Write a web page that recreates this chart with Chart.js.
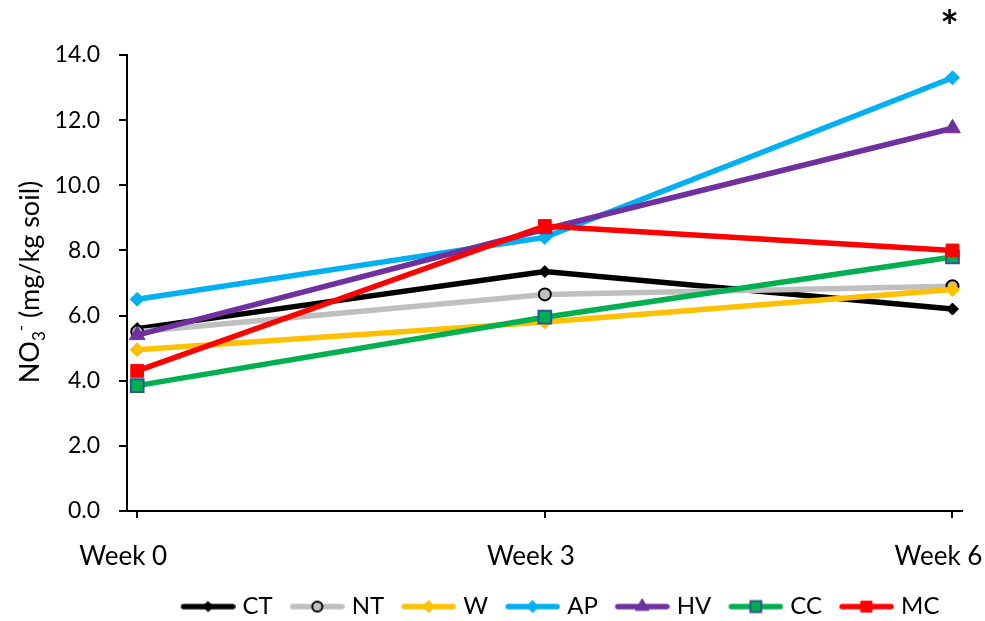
<!DOCTYPE html>
<html>
<head>
<meta charset="utf-8">
<script src="https://cdn.jsdelivr.net/npm/chart.js@4.4.1/dist/chart.umd.min.js"></script>
<style>
  html, body { margin: 0; padding: 0; background: #fff; }
  #wrap { width: 985px; height: 621px; position: relative; }
</style>
</head>
<body>
<div id="wrap"><canvas id="c"></canvas></div>
<script>
(function () {
  "use strict";

  // data
  var weeks = [0, 3, 6];
  var weekLabels = ["Week 0", "Week 3", "Week 6"];
  var seriesNames = ["CT", "NT", "W", "AP", "HV", "CC", "MC"];
  var ct = [5.6, 7.35, 6.2];
  var nt = [5.5, 6.65, 6.9];
  var w = [4.95, 5.8, 6.8];
  var ap = [6.5, 8.4, 13.3];
  var hv = [5.4, 8.65, 11.75];
  var cc = [3.85, 5.95, 7.8];
  var mc = [4.3, 8.75, 8.0];
  var yMin = 0, yMax = 14, yStep = 2;

  var values = [ct, nt, w, ap, hv, cc, mc];
  var looks = [
    { color: "#000000", marker: "rectRot", r: 6, fill: "#000000", edge: "#000000", ew: 1 },
    { color: "#bfbfbf", marker: "circle", r: 6, fill: "#bfbfbf", edge: "#000000", ew: 2 },
    { color: "#ffc000", marker: "rectRot", r: 7, fill: "#ffc000", edge: "#ffc000", ew: 1 },
    { color: "#00b0f0", marker: "rectRot", r: 7, fill: "#00b0f0", edge: "#00b0f0", ew: 1 },
    { color: "#7030a0", marker: "triangle", r: 9, fill: "#7030a0", edge: "#7030a0", ew: 1 },
    { color: "#00b050", marker: "rect", r: 9, fill: "#00b050", edge: "#2f5597", ew: 2 },
    { color: "#ff0000", marker: "rect", r: 9, fill: "#ff0000", edge: "#ff0000", ew: 1 }
  ];

  var FONT = "Lato, 'Liberation Sans', sans-serif";
  var LEG_PAD = 17, LEG_FONT = 24;

  function marker(ctx, type, x, y, r) {
    ctx.beginPath();
    if (type === "circle") {
      ctx.arc(x, y, r, 0, Math.PI * 2);
    } else if (type === "rectRot") {
      ctx.moveTo(x, y - r); ctx.lineTo(x + r, y); ctx.lineTo(x, y + r); ctx.lineTo(x - r, y);
    } else if (type === "triangle") {
      ctx.moveTo(x, y - r);
      ctx.lineTo(x + r * 0.866, y + r * 0.5);
      ctx.lineTo(x - r * 0.866, y + r * 0.5);
    } else {
      var s = r * Math.SQRT1_2;
      ctx.rect(x - s, y - s, 2 * s, 2 * s);
    }
    ctx.closePath();
  }

  // legend swatch: line with the marker in the middle
  function legendIcon(lk) {
    var cv = document.createElement("canvas");
    cv.width = 60; cv.height = 18;
    var g = cv.getContext("2d");
    g.strokeStyle = lk.color;
    g.lineWidth = 5.5;
    g.lineCap = "round";
    g.beginPath(); g.moveTo(8, 9); g.lineTo(57, 9); g.stroke();
    marker(g, lk.marker, 32.5, 9, lk.r * 0.85);
    g.fillStyle = lk.fill; g.fill();
    g.lineWidth = lk.ew; g.strokeStyle = lk.edge; g.stroke();
    return cv;
  }

  var icons = looks.map(legendIcon);

  var datasets = seriesNames.map(function (name, i) {
    var lk = looks[i];
    return {
      label: name,
      data: weeks.map(function (wk, j) { return { x: wk, y: values[i][j] }; }),
      borderColor: lk.color,
      backgroundColor: lk.color,
      borderWidth: 5.5,
      tension: 0,
      pointStyle: lk.marker,
      pointRadius: lk.r,
      pointBackgroundColor: lk.fill,
      pointBorderColor: lk.edge,
      pointBorderWidth: lk.ew,
      order: seriesNames.length - i
    };
  });

  // y title with sub/superscript
  var yTitle = {
    id: "yTitle",
    afterDraw: function (chart) {
      var ctx = chart.ctx;
      var parts = [
        { t: "NO", size: 27, dy: 0 },
        { t: "3", size: 17, dy: 6 },
        { t: "-", size: 17, dy: -12 },
        { t: " (mg/kg soil)", size: 27, dy: 0 }
      ];
      ctx.save();
      var total = 0;
      parts.forEach(function (p) {
        ctx.font = p.size + "px " + FONT;
        p.w = ctx.measureText(p.t).width;
        total += p.w;
      });
      ctx.translate(39, 282);
      ctx.rotate(-Math.PI / 2);
      ctx.fillStyle = "#000";
      ctx.textBaseline = "alphabetic";
      var x = -total / 2;
      parts.forEach(function (p) {
        ctx.font = p.size + "px " + FONT;
        ctx.fillText(p.t, x, p.dy);
        x += p.w;
      });
      ctx.restore();
    }
  };

  var star = {
    id: "star",
    afterDraw: function (chart) {
      var ctx = chart.ctx;
      var xs = chart.scales.x;
      ctx.save();
      ctx.font = "bold 44px " + FONT;
      ctx.fillStyle = "#000";
      ctx.textAlign = "center";
      ctx.textBaseline = "top";
      ctx.fillText("*", xs.getPixelForValue(weeks[weeks.length - 1]) - 3, 6);
      ctx.restore();
    }
  };

  // put the legend row where the reference has it
  var placeLegend = {
    id: "placeLegend",
    afterLayout: function (chart) {
      var lg = chart.legend;
      if (!lg) return;
      var dx = 560 - (lg.left + lg.right) / 2;
      var dy = 609 - (lg.top + LEG_PAD + LEG_FONT * 0.6);
      lg.left += dx; lg.right += dx;
      lg.top += dy; lg.bottom += dy;
    }
  };

  new Chart(document.getElementById("c"), {
    type: "line",
    data: { datasets: datasets },
    plugins: [yTitle, star, placeLegend],
    options: {
      responsive: true,
      maintainAspectRatio: false,
      animation: false,
      layout: { padding: { left: 53, right: 23, top: 55, bottom: 0 } },
      plugins: {
        tooltip: { enabled: false },
        legend: {
          position: "bottom",
          labels: {
            usePointStyle: true,
            pointStyleWidth: 50,
            padding: LEG_PAD,
            color: "#000",
            font: { family: FONT, size: LEG_FONT },
            generateLabels: function (chart) {
              return chart.data.datasets.map(function (ds, i) {
                return {
                  text: ds.label,
                  pointStyle: icons[i],
                  fillStyle: ds.borderColor,
                  strokeStyle: ds.borderColor,
                  lineWidth: 0,
                  hidden: false,
                  fontColor: "#000",
                  datasetIndex: i
                };
              });
            }
          }
        }
      },
      scales: {
        x: {
          type: "linear",
          min: -0.075,
          max: 6.07,
          afterBuildTicks: function (scale) {
            scale.ticks = weeks.map(function (v) { return { value: v }; });
          },
          afterFit: function (scale) {
            scale.paddingLeft = 0;
            scale.paddingRight = 0;
            scale.height = 59;
          },
          ticks: {
            color: "#000",
            padding: 23,
            labelOffset: -14,
            maxRotation: 0,
            font: { family: FONT, size: 26 },
            callback: function (v) { return weekLabels[weeks.indexOf(v)]; }
          },
          grid: { drawOnChartArea: false, drawTicks: true, tickLength: 7, color: "#000", lineWidth: 2 },
          border: { display: true, color: "#000", width: 2 }
        },
        y: {
          min: yMin,
          max: yMax,
          afterFit: function (scale) {
            scale.paddingTop = 0;
            scale.paddingBottom = 0;
            scale.width = 74;
          },
          ticks: {
            stepSize: yStep,
            color: "#000",
            padding: 19,
            font: { family: FONT, size: 23 },
            callback: function (v) { return v.toFixed(1); }
          },
          grid: { drawOnChartArea: false, drawTicks: true, tickLength: 8, color: "#000", lineWidth: 2 },
          border: { display: true, color: "#000", width: 2 }
        }
      }
    }
  });
})();
</script>
</body>
</html>
